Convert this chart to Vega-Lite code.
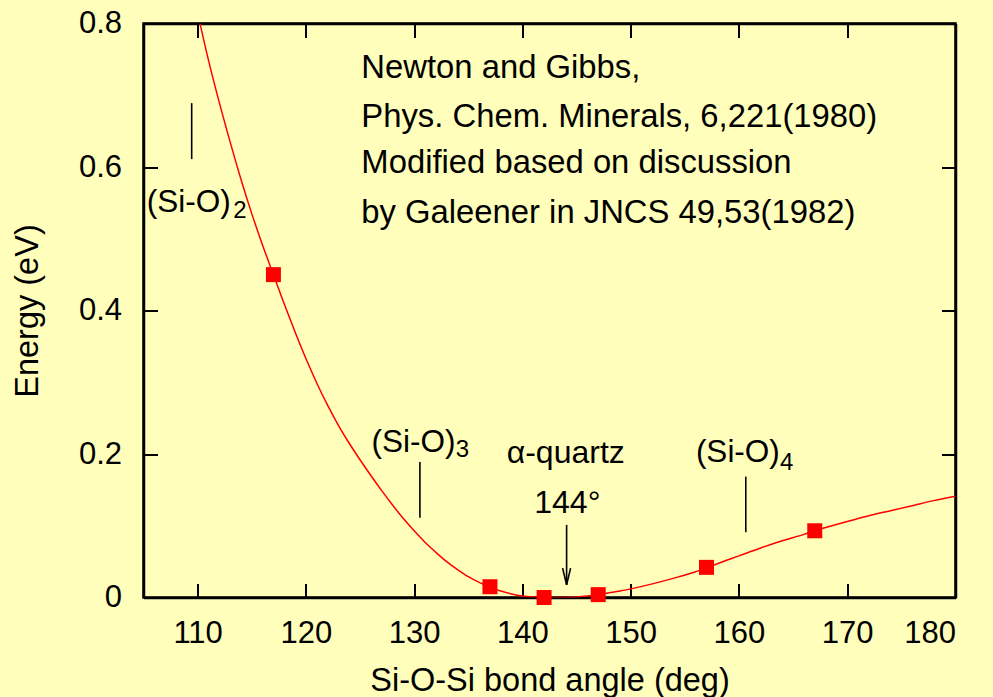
{
  "$schema": "https://vega.github.io/schema/vega-lite/v6.json",
  "width": 812,
  "height": 574,
  "autosize": {"type": "none"},
  "padding": {"left": 143.5, "top": 23.5, "right": 37.5, "bottom": 99.5},
  "background": "#FFFFBB",
  "config": {
    "view": {"stroke": "black", "strokeWidth": 2.5},
    "axis": {
      "grid": false,
      "domainColor": "black",
      "domainWidth": 2.5,
      "tickColor": "black",
      "tickWidth": 2,
      "tickSize": -14,
      "labelFont": "Liberation Sans",
      "labelFontSize": 31,
      "labelColor": "black",
      "titleFont": "Liberation Sans",
      "titleFontSize": 32.5,
      "titleFontWeight": "normal",
      "titleColor": "black"
    },
    "text": {"font": "Liberation Sans", "color": "black"}
  },
  "datasets": {
    "curve": [
      {"angle": 110.22, "energy": 0.8},
      {"angle": 111, "energy": 0.749},
      {"angle": 112, "energy": 0.69},
      {"angle": 113, "energy": 0.635},
      {"angle": 114, "energy": 0.583},
      {"angle": 115, "energy": 0.535},
      {"angle": 116, "energy": 0.491},
      {"angle": 117, "energy": 0.45},
      {"angle": 118, "energy": 0.409},
      {"angle": 119, "energy": 0.37},
      {"angle": 120, "energy": 0.333},
      {"angle": 121, "energy": 0.299},
      {"angle": 122, "energy": 0.268},
      {"angle": 123, "energy": 0.24},
      {"angle": 124, "energy": 0.215},
      {"angle": 125, "energy": 0.192},
      {"angle": 126, "energy": 0.17},
      {"angle": 127, "energy": 0.149},
      {"angle": 128, "energy": 0.129},
      {"angle": 129, "energy": 0.11},
      {"angle": 130, "energy": 0.093},
      {"angle": 131, "energy": 0.077},
      {"angle": 132, "energy": 0.063},
      {"angle": 133, "energy": 0.05},
      {"angle": 134, "energy": 0.039},
      {"angle": 135, "energy": 0.029},
      {"angle": 136, "energy": 0.021},
      {"angle": 137, "energy": 0.0145},
      {"angle": 138, "energy": 0.009},
      {"angle": 139, "energy": 0.005},
      {"angle": 140, "energy": 0.0022},
      {"angle": 141, "energy": 0.0007},
      {"angle": 142, "energy": 0.0001},
      {"angle": 143, "energy": 0},
      {"angle": 144, "energy": 0},
      {"angle": 145, "energy": 0.0006},
      {"angle": 146, "energy": 0.002},
      {"angle": 147, "energy": 0.004},
      {"angle": 148, "energy": 0.0065},
      {"angle": 149, "energy": 0.009},
      {"angle": 150, "energy": 0.012},
      {"angle": 152, "energy": 0.019},
      {"angle": 154, "energy": 0.027},
      {"angle": 156, "energy": 0.036},
      {"angle": 157, "energy": 0.041},
      {"angle": 158, "energy": 0.047},
      {"angle": 160, "energy": 0.058},
      {"angle": 162, "energy": 0.069},
      {"angle": 164, "energy": 0.079},
      {"angle": 166, "energy": 0.088},
      {"angle": 167, "energy": 0.093},
      {"angle": 168, "energy": 0.0975},
      {"angle": 170, "energy": 0.106},
      {"angle": 172, "energy": 0.114},
      {"angle": 174, "energy": 0.121},
      {"angle": 176, "energy": 0.128},
      {"angle": 178, "energy": 0.135},
      {"angle": 180, "energy": 0.141}
    ],
    "points": [
      {"angle": 117, "energy": 0.45},
      {"angle": 137, "energy": 0.015},
      {"angle": 142, "energy": 0.0},
      {"angle": 147, "energy": 0.004},
      {"angle": 157, "energy": 0.042},
      {"angle": 167, "energy": 0.093}
    ],
    "marks": [
      {"angle": 109.45, "energy": 0.611, "energy2": 0.689},
      {"angle": 130.53, "energy": 0.111, "energy2": 0.189},
      {"angle": 160.63, "energy": 0.091, "energy2": 0.1685},
      {"angle": 144.08, "energy": 0.0177, "energy2": 0.1012}
    ],
    "arrowhead": [
      {"angle": 143.71, "angle2": 144.08, "energy": 0.041, "energy2": 0.0177},
      {"angle": 144.45, "angle2": 144.08, "energy": 0.041, "energy2": 0.0177}
    ],
    "refs": [
      {"angle": 125.12, "energy": 0.7235, "label": "Newton and Gibbs,"},
      {"angle": 125.12, "energy": 0.656, "label": "Phys. Chem. Minerals, 6,221(1980)"},
      {"angle": 125.12, "energy": 0.5917, "label": "Modified based on discussion"},
      {"angle": 125.12, "energy": 0.522, "label": "by Galeener in JNCS 49,53(1982)"}
    ],
    "rings": [
      {"angle": 105.3, "energy": 0.537, "label": "(Si-O)"},
      {"angle": 126.07, "energy": 0.203, "label": "(Si-O)"},
      {"angle": 156.02, "energy": 0.189, "label": "(Si-O)"}
    ],
    "subs": [
      {"angle": 113.3, "energy": 0.529, "label": "2"},
      {"angle": 133.85, "energy": 0.196, "label": "3"},
      {"angle": 163.8, "energy": 0.178, "label": "4"}
    ],
    "quartz": [
      {"angle": 144.0, "energy": 0.187, "label": "α-quartz"},
      {"angle": 144.15, "energy": 0.1175, "label": "144°"}
    ]
  },
  "layer": [
    {
      "data": {"name": "curve"},
      "mark": {"type": "line", "color": "#FF0000", "strokeWidth": 1.5, "clip": true, "interpolate": "monotone"},
      "encoding": {
        "x": {
          "field": "angle", "type": "quantitative",
          "scale": {"domain": [105, 180], "nice": false, "zero": false},
          "axis": {"orient": "bottom", "values": [110, 120, 130, 140, 150, 160, 170, 180], "title": "Si-O-Si bond angle (deg)", "labelPadding": 35, "titlePadding": 16}
        },
        "y": {
          "field": "energy", "type": "quantitative",
          "scale": {"domain": [0, 0.8], "nice": false, "zero": false},
          "axis": {"orient": "left", "values": [0, 0.2, 0.4, 0.6, 0.8], "format": "~g", "title": "Energy (eV)", "labelPadding": 36, "titlePadding": 33.5}
        }
      }
    },
    {
      "data": {"name": "points"},
      "mark": {"type": "point", "shape": "square", "filled": true, "size": 225, "color": "#FF0000", "opacity": 1},
      "encoding": {
        "x": {"field": "angle", "type": "quantitative", "axis": {"orient": "top", "values": [110, 120, 130, 140, 150, 160, 170, 180], "labels": false, "title": null}},
        "y": {"field": "energy", "type": "quantitative", "axis": {"orient": "right", "values": [0, 0.2, 0.4, 0.6, 0.8], "labels": false, "title": null}}
      }
    },
    {
      "data": {"name": "marks"},
      "mark": {"type": "rule", "color": "black", "strokeWidth": 1.6},
      "encoding": {
        "x": {"field": "angle", "type": "quantitative", "axis": null},
        "y": {"field": "energy", "type": "quantitative", "axis": null},
        "y2": {"field": "energy2"}
      }
    },
    {
      "data": {"name": "arrowhead"},
      "mark": {"type": "rule", "color": "black", "strokeWidth": 1.6},
      "encoding": {
        "x": {"field": "angle", "type": "quantitative", "axis": null},
        "x2": {"field": "angle2"},
        "y": {"field": "energy", "type": "quantitative", "axis": null},
        "y2": {"field": "energy2"}
      }
    },
    {
      "data": {"name": "refs"},
      "mark": {"type": "text", "align": "left", "baseline": "alphabetic", "fontSize": 32.8},
      "encoding": {
        "x": {"field": "angle", "type": "quantitative", "axis": null},
        "y": {"field": "energy", "type": "quantitative", "axis": null},
        "text": {"field": "label"}
      }
    },
    {
      "data": {"name": "rings"},
      "mark": {"type": "text", "align": "left", "baseline": "alphabetic", "fontSize": 31.5},
      "encoding": {
        "x": {"field": "angle", "type": "quantitative", "axis": null},
        "y": {"field": "energy", "type": "quantitative", "axis": null},
        "text": {"field": "label"}
      }
    },
    {
      "data": {"name": "subs"},
      "mark": {"type": "text", "align": "left", "baseline": "alphabetic", "fontSize": 24},
      "encoding": {
        "x": {"field": "angle", "type": "quantitative", "axis": null},
        "y": {"field": "energy", "type": "quantitative", "axis": null},
        "text": {"field": "label"}
      }
    },
    {
      "data": {"name": "quartz"},
      "mark": {"type": "text", "align": "center", "baseline": "alphabetic", "fontSize": 32},
      "encoding": {
        "x": {"field": "angle", "type": "quantitative", "axis": null},
        "y": {"field": "energy", "type": "quantitative", "axis": null},
        "text": {"field": "label"}
      }
    }
  ],
  "resolve": {"axis": {"x": "independent", "y": "independent"}}
}
